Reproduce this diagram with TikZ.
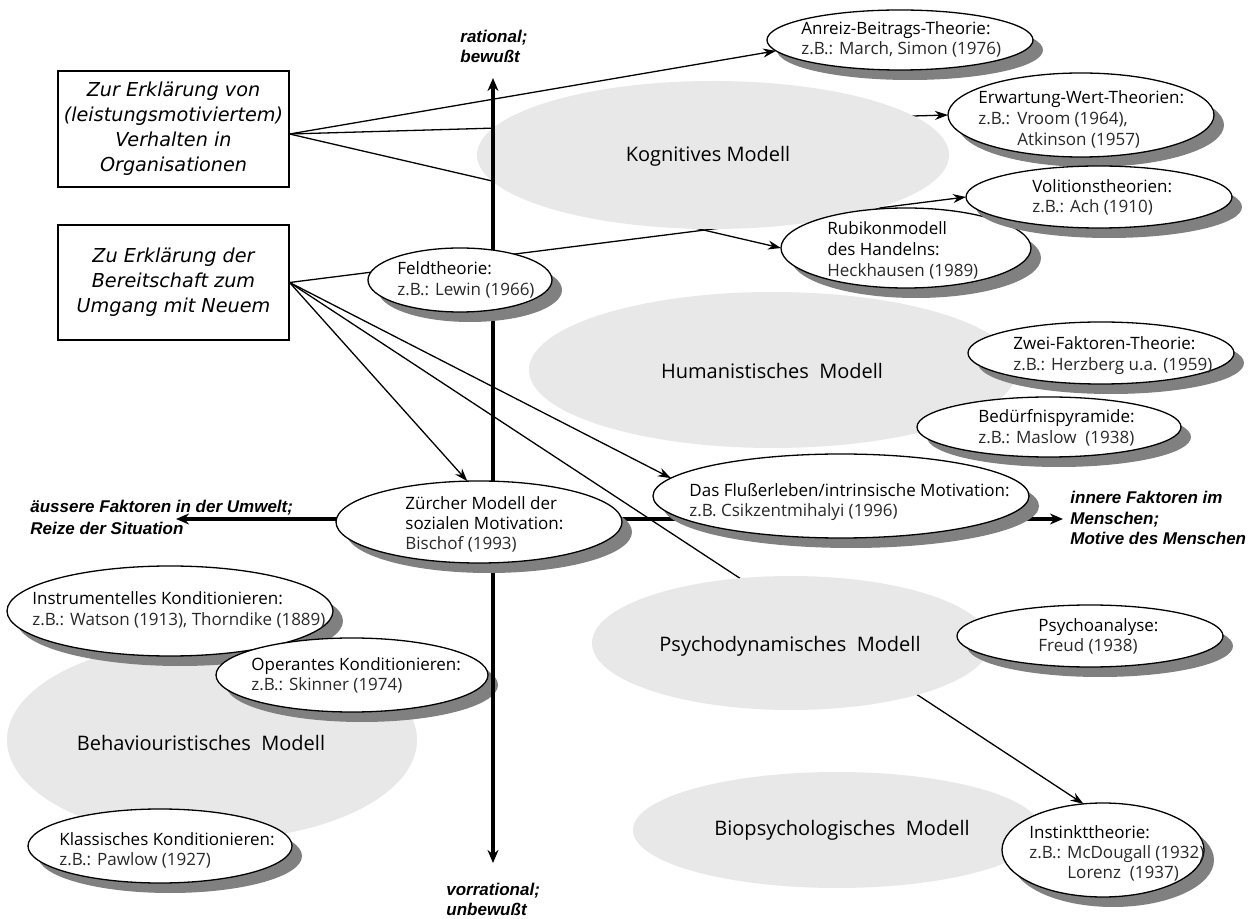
\documentclass[tikz,border=0pt]{standalone}
\usepackage{fontspec}
\setmainfont{Open Sans}
\newfontfamily\questionfont{DejaVu Sans}
\newfontfamily\axisfont{Liberation Sans}
\usetikzlibrary{shapes.geometric,arrows.meta,shadows}

\definecolor{modelgray}{RGB}{232,232,232}
\definecolor{shadowgray}{RGB}{128,128,128}
\definecolor{subtext}{RGB}{40,40,40}

\pgfdeclarelayer{lines}
\pgfdeclarelayer{models}
\pgfdeclarelayer{axes}
\pgfsetlayers{lines,models,axes,main}

% stacked lines, first baseline is the box baseline
\newcommand\txtlines[2][10pt]{\vtop{\baselineskip=#1\lineskiplimit=-20pt\lineskip=0pt #2}}
\newcommand\lite[1]{{\color{subtext}#1}}

\tikzset{
  theory/.style={ellipse, draw, line width=0.65pt, fill=white, inner sep=0pt, outer sep=0pt,
    drop shadow={shadow xshift=5pt, shadow yshift=-5pt, fill=shadowgray, opacity=1}},
  model/.style={ellipse, fill=modelgray, inner sep=0pt, outer sep=0pt},
  labeltext/.style={anchor=base west, inner sep=0pt, font=\fontsize{8.5}{10}\selectfont},
  modeltext/.style={anchor=base, inner sep=0pt, font=\fontsize{10}{12}\selectfont},
  axistext/.style={anchor=base west, inner sep=0pt, font=\axisfont\fontsize{8.5}{10}\selectfont\bfseries\itshape},
  question/.style={draw, line width=0.6pt, inner sep=0pt, align=center,
    font=\questionfont\fontsize{9.6}{12.5}\selectfont\itshape},
  link/.style={line width=0.65pt, -{Stealth[length=6.5pt,width=4.5pt]}},
  axisline/.style={line width=1.6pt, {Stealth[length=6.5pt,width=5.5pt]}-{Stealth[length=6.5pt,width=5.5pt]}},
}

\begin{document}
\begin{tikzpicture}[x=0.5pt, y=-0.5pt]
\path[use as bounding box] (0,0) rectangle (1254,919);
\begin{pgfonlayer}{lines}
  \fill[white] (0,0) rectangle (1254,919);
\end{pgfonlayer}

% ---------- question boxes ----------
\node[question, minimum width=115.5pt, minimum height=58pt] (box1) at (173.5,129)
  {Zur Erklärung von\\(leistungsmotiviertem)\\Verhalten in\\Organisationen};
\node[question, minimum width=115.5pt, minimum height=57.5pt] (box2) at (173.5,282.5)
  {Zu Erklärung der\\Bereitschaft zum\\Umgang mit Neuem};

% ---------- model areas (grey) ----------
\begin{pgfonlayer}{models}
  \node[model, minimum width=236pt, minimum height=74pt] (kog) at (713,155) {};
  \node[modeltext] (kogT) at (708,162) {Kognitives Modell};
  \node[model, minimum width=244pt, minimum height=78pt] (hum) at (773,370) {};
  \node[modeltext] (humT) at (772,379) {Humanistisches\ \ Modell};
  \node[model, minimum width=199pt, minimum height=67pt] (psy) at (791,643) {};
  \node[modeltext] (psyT) at (790,652) {Psychodynamisches\ \ Modell};
  \node[model, minimum width=204pt, minimum height=58pt] (bio) at (837,830) {};
  \node[modeltext] (bioT) at (842,835) {Biopsychologisches\ \ Modell};
  \node[model, minimum width=205pt, minimum height=100pt] (beh) at (212,740) {};
  \node[modeltext] (behT) at (201,750) {Behaviouristisches\ \ Modell};

  % behaviouristic theories
  \node[theory, minimum width=163pt, minimum height=45pt] (instr) at (170,611) {};
  \node[labeltext] (instrT) at (32,605) {\txtlines{\hbox{Instrumentelles Konditionieren:}\hbox{\lite{z.B.: Watson (1913), Thorndike (1889)}}}};
  \node[theory, minimum width=136pt, minimum height=37pt] (oper) at (352,675) {};
  \node[labeltext] (operT) at (251,670) {\txtlines{\hbox{Operantes Konditionieren:}\hbox{\lite{z.B.: Skinner (1974)}}}};
  \node[theory, minimum width=132pt, minimum height=37pt] (klass) at (160,846) {};
  \node[labeltext] (klassT) at (59,845) {\txtlines{\hbox{Klassisches Konditionieren:}\hbox{\lite{z.B.: Pawlow (1927)}}}};
\end{pgfonlayer}

% ---------- theories ----------
\node[theory, minimum width=133pt, minimum height=30pt] (anreiz) at (900,40) {};
\node[labeltext] (anreizT) at (801,35) {\txtlines{\hbox{Anreiz-Beitrags-Theorie:}\hbox{\lite{z.B.: March, Simon (1976)}}}};

\node[theory, minimum width=133pt, minimum height=42pt] (erw) at (1081,115) {};
\node[labeltext] (erwT) at (978,104) {\txtlines[10.5pt]{\hbox{Erwartung-Wert-Theorien:}\hbox{\lite{\makebox[19.5pt][l]{z.B.:}Vroom (1964),}}\hbox{\lite{\hspace*{19.5pt}Atkinson (1957)}}}};

\node[theory, minimum width=125pt, minimum height=40pt] (rub) at (906,248) {};
\node[labeltext] (rubT) at (827,235) {\txtlines[10.5pt]{\hbox{Rubikonmodell}\hbox{des Handelns:}\hbox{\lite{Heckhausen (1989)}}}};

\node[theory, minimum width=133pt, minimum height=31pt] (vol) at (1099,197) {};
\node[labeltext] (volT) at (1032,193) {\txtlines{\hbox{Volitionstheorien:}\hbox{\lite{z.B.: Ach (1910)}}}};

\node[theory, minimum width=92pt, minimum height=32pt] (feld) at (460,280) {};
\node[labeltext] (feldT) at (397,275) {\txtlines[10.5pt]{\hbox{Feldtheorie:}\hbox{\lite{z.B.: Lewin (1966)}}}};

\node[theory, minimum width=133pt, minimum height=31pt] (zwei) at (1101,353) {};
\node[labeltext] (zweiT) at (1013,350) {\txtlines[10.5pt]{\hbox{Zwei-Faktoren-Theorie:}\hbox{\lite{z.B.: Herzberg u.a. (1959)}}}};

\node[theory, minimum width=132pt, minimum height=30pt] (bed) at (1049,427) {};
\node[labeltext] (bedT) at (978,423) {\txtlines[10.5pt]{\hbox{Bedürfnispyramide:}\hbox{\lite{z.B.: Maslow\ \ (1938)}}}};

\node[theory, minimum width=143pt, minimum height=41pt] (zur) at (479,522) {};
\node[labeltext] (zurT) at (405,510) {\txtlines{\hbox{Zürcher Modell der}\hbox{sozialen Motivation:}\hbox{\lite{Bischof (1993)}}}};

\node[theory, minimum width=188pt, minimum height=42pt] (flu) at (841,496) {};
\node[labeltext] (fluT) at (689,497) {\txtlines{\hbox{Das Flußerleben/intrinsische Motivation:}\hbox{\lite{z.B. Csikzentmihalyi (1996)}}}};

\node[theory, minimum width=133pt, minimum height=31pt] (psa) at (1090,636) {};
\node[labeltext] (psaT) at (1038,632) {\txtlines{\hbox{Psychoanalyse:}\hbox{\lite{Freud (1938)}}}};

\node[theory, minimum width=101pt, minimum height=47pt] (inst) at (1103,850) {};
\node[labeltext] (instT) at (1029,838) {\txtlines{\hbox{Instinkttheorie:}\hbox{\lite{z.B.: McDougall (1932)}}\hbox{\lite{\hspace*{19pt}Lorenz\ \ (1937)}}}};

% ---------- axis labels ----------
\node[axistext] (ratT) at (460,43) {\txtlines{\hbox{rational;}\hbox{bewußt}}};
\node[axistext] (vorT) at (446,895) {\txtlines{\hbox{vorrational;}\hbox{unbewußt}}};
\node[axistext] (ausT) at (30,513) {\txtlines[11pt]{\hbox{äussere Faktoren in der Umwelt;}\hbox{Reize der Situation}}};
\node[axistext] (innT) at (1070,504) {\txtlines[10.25pt]{\hbox{innere Faktoren im}\hbox{Menschen;}\hbox{Motive des Menschen}}};

% ---------- axes ----------
\coordinate (axN) at (493,78);
\coordinate (axS) at (493,863);
\coordinate (axW) at (176,519);
\coordinate (axE) at (1063,519);
\begin{pgfonlayer}{axes}
  \draw[axisline] (axS) -- (axN);
  \draw[axisline] (axW) -- (axE);
\end{pgfonlayer}

% ---------- connectors ----------
\coordinate (b1out) at ([yshift=-2.5pt]box1.east);
\begin{pgfonlayer}{lines}
  \draw[link] (b1out) -- (anreiz.185);
  \draw[link] (b1out) -- (erw.west);
  \draw[link] (b1out) -- (rub.west);
  \draw[link] (box2.east) -- (vol.west);
  \draw[link] (box2.east) -- (zur.106);
  \draw[link] (box2.east) -- (flu.174);
  \draw[link] (box2.east) -- (inst.113);
\end{pgfonlayer}
\end{tikzpicture}
\end{document}
